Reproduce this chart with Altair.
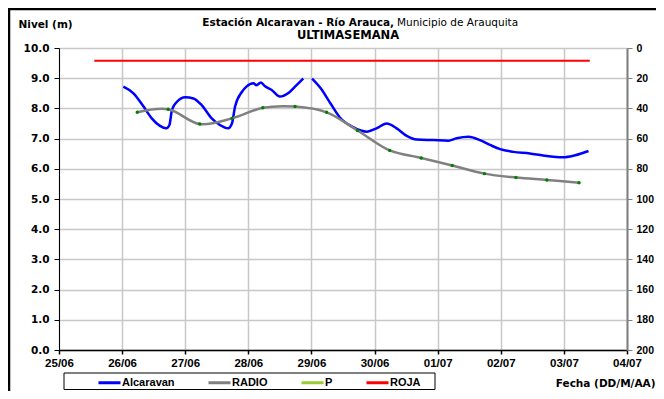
import json
import altair as alt
import pandas as pd

# ---------------- data ----------------
# x values are days after 25/06 (0 = 25/06 00:00)
alc_dia_1 = [1.02, 1.18, 1.34, 1.47, 1.60, 1.70, 1.75, 1.79, 1.87, 2.00, 2.13, 2.26, 2.42, 2.55,
             2.68, 2.74, 2.79, 2.90, 2.97, 3.08, 3.13, 3.20, 3.26, 3.37, 3.50, 3.63, 3.74, 3.87]
alc_val_1 = [8.72, 8.50, 8.06, 7.67, 7.42, 7.34, 7.45, 7.95, 8.22, 8.37, 8.33, 8.11, 7.67, 7.45,
             7.34, 7.50, 8.06, 8.55, 8.72, 8.83, 8.77, 8.86, 8.74, 8.61, 8.39, 8.50, 8.72, 8.99]
alc_dia_2 = [4.01, 4.15, 4.30, 4.45, 4.66, 4.88, 5.03, 5.19, 5.35, 5.51, 5.67, 5.93, 6.17, 6.30,
             6.49, 6.67, 6.83, 6.99, 7.20, 7.46, 7.67, 7.83, 7.99, 8.15, 8.31, 8.39]
alc_val_2 = [8.99, 8.66, 8.17, 7.70, 7.38, 7.23, 7.34, 7.50, 7.34, 7.09, 6.97, 6.95, 6.93, 7.01,
             7.06, 6.95, 6.79, 6.65, 6.56, 6.51, 6.44, 6.40, 6.38, 6.43, 6.53, 6.59]

radio_dia = [1.24, 1.73, 2.23, 2.74, 3.23, 3.74, 4.24, 4.73, 5.24, 5.74, 6.23, 6.74, 7.24, 7.73, 8.24]
radio_val = [7.87, 7.97, 7.48, 7.67, 8.02, 8.06, 7.87, 7.27, 6.61, 6.36, 6.11, 5.84, 5.71, 5.63, 5.54]

roja_dia = [0.56, 8.41]
roja_val = [9.58, 9.58]

p_dia = []
p_mm = []

fechas = ["25/06", "26/06", "27/06", "28/06", "29/06", "30/06", "01/07", "02/07", "03/07", "04/07"]
series = ["Alcaravan", "RADIO", "P", "ROJA"]
colores = ["#0000FF", "#808080", "#99CC33", "#FF0000"]

# ---------------- tables ----------------
alc_df = pd.DataFrame({
    "dia": alc_dia_1 + alc_dia_2,
    "nivel": alc_val_1 + alc_val_2,
    "tramo": [1] * len(alc_dia_1) + [2] * len(alc_dia_2),
    "serie": "Alcaravan",
})
radio_df = pd.DataFrame({"dia": radio_dia, "nivel": radio_val, "serie": "RADIO"})
roja_df = pd.DataFrame({"dia": roja_dia, "nivel": roja_val, "serie": "ROJA"})
p_df = pd.DataFrame({"dia": pd.Series(p_dia, dtype=float), "mm": pd.Series(p_mm, dtype=float),
                     "serie": pd.Series([], dtype=str)})

FONT = "Liberation Sans"
WIDE = "DejaVu Sans"
W, H = 568, 302

x_enc = alt.X(
    "dia:Q",
    scale=alt.Scale(domain=[0, 9], nice=False, zero=False),
    axis=alt.Axis(
        values=list(range(10)),
        labelExpr=json.dumps(fechas) + "[datum.value]",
        labelFlush=False, labelFont=FONT, labelFontSize=11.5,
        title="Fecha (DD/M/AA)", titleFont=WIDE, titleFontSize=10.5,
        titleX=596, titleY=33, titleAlign="right", titleBaseline="middle", titleAngle=0,
        grid=True, gridColor="#c8c8c8", gridWidth=1.5,
        domainColor="#000000", domainWidth=1.5,
        tickColor="#000000", tickSize=4, tickWidth=1.5,
        labelPadding=3,
    ),
)

y_axis = alt.Axis(
    values=list(range(11)), format=".1f", labelFlush=False,
    labelFont=WIDE, labelFontSize=10.5,
    title="Nivel (m)", titleFont=WIDE, titleFontSize=10.5,
    titleX=-41, titleY=-24, titleAngle=0, titleAlign="left", titleBaseline="middle",
    grid=True, gridColor="#c8c8c8", gridWidth=1.5,
    domainColor="#000000", domainWidth=1,
    tickColor="#000000", tickSize=5, labelPadding=5,
)
y_scale = alt.Scale(domain=[0, 10], nice=False, zero=True)
y_enc = alt.Y("nivel:Q", scale=y_scale, axis=y_axis)

color_enc = alt.Color(
    "serie:N",
    scale=alt.Scale(domain=series, range=colores),
    legend=alt.Legend(
        title=None, orient="none", legendX=38, legendY=322, direction="horizontal",
        symbolType="stroke", symbolSize=484, symbolStrokeWidth=3,
        labelFont=FONT, labelFontSize=11, labelFontWeight="bold", labelColor="#000000",
        labelOffset=0, columnPadding=27, padding=0,
    ),
)

blue = alt.Chart(alc_df).mark_line(strokeWidth=2.5, interpolate="monotone").encode(
    x=x_enc, y=y_enc, color=color_enc, detail="tramo:N"
)
grey = alt.Chart(radio_df).mark_line(strokeWidth=2.5, interpolate="catmull-rom").encode(
    x=x_enc, y=y_enc, color=color_enc
)
dots = alt.Chart(radio_df).mark_point(filled=True, size=12, color="#008000", opacity=1).encode(
    x=x_enc, y=y_enc
)
red = alt.Chart(roja_df).mark_line(strokeWidth=2).encode(x=x_enc, y=y_enc, color=color_enc)

one = pd.DataFrame({"k": [0]})
t1 = alt.Chart(one).mark_text(text="Estación Alcaravan - Río Arauca,", font=WIDE, fontSize=10.5,
                              fontWeight="bold", align="right", baseline="middle").encode(
    x=alt.value(335), y=alt.value(-25))
t2 = alt.Chart(one).mark_text(text="Municipio de Arauquita", font=WIDE, fontSize=10.5,
                              align="left", baseline="middle").encode(
    x=alt.value(338), y=alt.value(-25))
t3 = alt.Chart(one).mark_text(text="ULTIMASEMANA", font=WIDE, fontSize=11.5, fontWeight="bold",
                              align="center", baseline="middle").encode(
    x=alt.value(289), y=alt.value(-12))

legend_box = alt.Chart(one).mark_rect(fill=None, stroke="#000000", strokeWidth=1).encode(
    x=alt.value(5), x2=alt.value(376), y=alt.value(325), y2=alt.value(341.5))
frame_left = alt.Chart(one).mark_rule(color="#000000", strokeWidth=2.5).encode(
    x=alt.value(-50), y=alt.value(-39), y2=alt.value(345))
frame_top = alt.Chart(one).mark_rule(color="#000000", strokeWidth=2.5).encode(
    x=alt.value(-51), x2=alt.value(600), y=alt.value(-39))

left = alt.layer(blue, grey, dots, red, t1, t2, t3, legend_box, frame_left, frame_top)

right = alt.Chart(p_df).mark_line(strokeWidth=2, color="#99CC33").encode(
    x=x_enc,
    y=alt.Y("mm:Q", scale=alt.Scale(domain=[0, 200], reverse=True, nice=False),
            axis=alt.Axis(orient="right", values=list(range(0, 201, 20)), title=None,
                          labelFlush=False, labelFont=FONT, labelFontSize=10.5,
                          grid=False, domainColor="#808080", domainWidth=2,
                          tickColor="#808080", tickSize=5, labelPadding=4)),
)

chart = alt.layer(left, right).resolve_scale(y="independent").properties(
    width=W, height=H,
    autosize=alt.AutoSizeParams(type="none"),
    padding={"left": 51, "top": 40, "right": 29, "bottom": 41},
).configure_view(stroke="#909090", strokeWidth=1).configure_axis(
    labelFontWeight="bold", labelColor="#000000",
    titleFontWeight="bold", titleColor="#000000",
)

chart.save("out.html", embed_options={"renderer": "svg", "actions": False})
